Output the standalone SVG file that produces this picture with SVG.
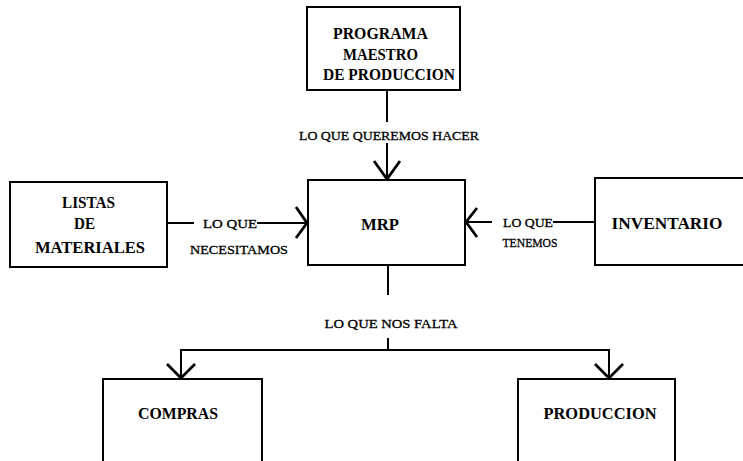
<svg xmlns="http://www.w3.org/2000/svg" width="743" height="461" viewBox="0 0 743 461">
  <style>
    .box { fill: #ffffff; stroke: #000000; stroke-width: 2; }
    .title { font-family: "Liberation Serif", "Times New Roman", serif; font-weight: bold; font-size: 17px; fill: #000000; text-anchor: middle; }
    .label { font-family: "Liberation Serif", "Times New Roman", serif; font-size: 13.5px; fill: #000000; stroke: #000000; stroke-width: 0.3; text-anchor: middle; }
    .line { fill: none; stroke: #000000; stroke-width: 2; }
    .head { fill: none; stroke: #000000; stroke-width: 2.8; stroke-linejoin: miter; }
  </style>
  <rect width="743" height="461" fill="#ffffff"/>

  <g id="connectors">
    <!-- programa maestro -> MRP -->
    <line class="line" x1="387" y1="90" x2="387" y2="122"/>
    <line class="line" x1="387" y1="143" x2="387" y2="180"/>
    <polyline class="head" points="374,161 387,179 400,161"/>
    <text class="label" x="389" y="140" textLength="180" lengthAdjust="spacingAndGlyphs">LO QUE QUEREMOS HACER</text>

    <!-- listas de materiales -> MRP -->
    <line class="line" x1="167" y1="223" x2="194" y2="223"/>
    <line class="line" x1="257" y1="223" x2="308" y2="223"/>
    <polyline class="head" points="296,207 307,223 296,238"/>
    <text class="label" x="230" y="228" textLength="54" lengthAdjust="spacingAndGlyphs">LO QUE</text>
    <text class="label" x="239" y="254" textLength="98" lengthAdjust="spacingAndGlyphs">NECESITAMOS</text>

    <!-- inventario -> MRP -->
    <line class="line" x1="465" y1="222" x2="492" y2="222"/>
    <line class="line" x1="553" y1="222" x2="595" y2="222"/>
    <polyline class="head" points="477,208 466,222 477,237"/>
    <text class="label" x="528" y="227" textLength="50" lengthAdjust="spacingAndGlyphs">LO QUE</text>
    <text class="label" x="530" y="247" textLength="55" lengthAdjust="spacingAndGlyphs">TENEMOS</text>

    <!-- MRP -> compras / produccion -->
    <line class="line" x1="388" y1="265" x2="388" y2="295"/>
    <line class="line" x1="388" y1="338" x2="388" y2="350"/>
    <text class="label" x="391" y="328" textLength="133" lengthAdjust="spacingAndGlyphs">LO QUE NOS FALTA</text>
    <polyline class="line" points="181,379 181,350 609,350 609,379"/>
    <polyline class="head" points="167,364 181,378 195,364"/>
    <polyline class="head" points="595,364 609,378 623,364"/>
  </g>

  <g id="programa-maestro">
    <rect class="box" x="307" y="7" width="153" height="83"/>
    <text class="title" x="380.5" y="39" textLength="95" lengthAdjust="spacingAndGlyphs">PROGRAMA</text>
    <text class="title" x="380.5" y="60" textLength="75" lengthAdjust="spacingAndGlyphs">MAESTRO</text>
    <text class="title" x="389" y="80" textLength="132" lengthAdjust="spacingAndGlyphs">DE  PRODUCCION</text>
  </g>

  <g id="listas-de-materiales">
    <rect class="box" x="10" y="182" width="157" height="85"/>
    <text class="title" x="88.5" y="208" textLength="53" lengthAdjust="spacingAndGlyphs">LISTAS</text>
    <text class="title" x="84.5" y="229" textLength="21" lengthAdjust="spacingAndGlyphs">DE</text>
    <text class="title" x="90" y="253" textLength="110" lengthAdjust="spacingAndGlyphs">MATERIALES</text>
  </g>

  <g id="mrp">
    <rect class="box" x="308" y="180" width="157" height="85"/>
    <text class="title" x="380" y="229.5" font-size="18" textLength="38" lengthAdjust="spacingAndGlyphs">MRP</text>
  </g>

  <g id="inventario">
    <rect class="box" x="595" y="178" width="200" height="87"/>
    <text class="title" x="667" y="229" textLength="111" lengthAdjust="spacingAndGlyphs">INVENTARIO</text>
  </g>

  <g id="compras">
    <rect class="box" x="103" y="379" width="159" height="100"/>
    <text class="title" x="178" y="419" textLength="80" lengthAdjust="spacingAndGlyphs">COMPRAS</text>
  </g>

  <g id="produccion">
    <rect class="box" x="518" y="379" width="157" height="100"/>
    <text class="title" x="600" y="419" textLength="113" lengthAdjust="spacingAndGlyphs">PRODUCCION</text>
  </g>
</svg>
